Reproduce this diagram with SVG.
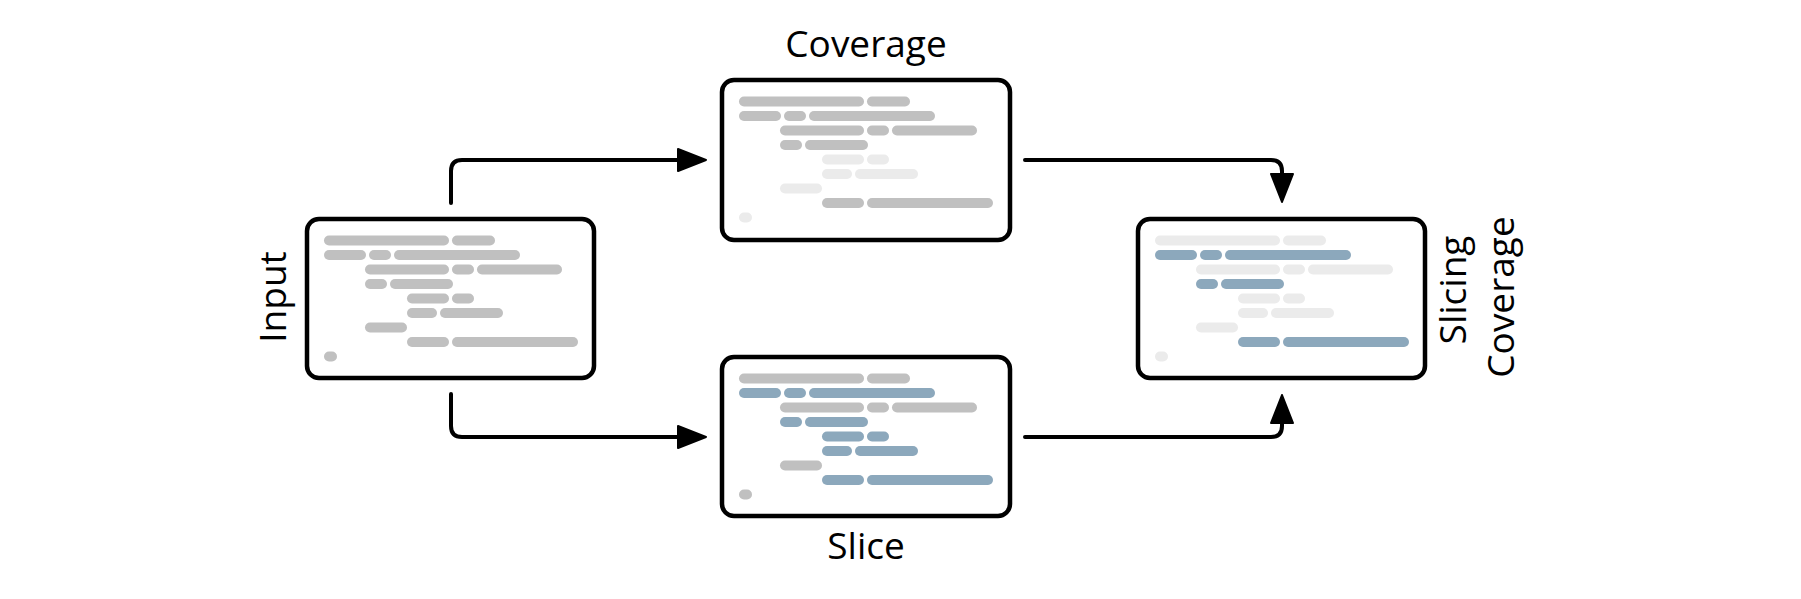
<svg xmlns="http://www.w3.org/2000/svg" width="1801" height="599" viewBox="0 0 1801 599">
<style>
.box{fill:#fff;stroke:#000;stroke-width:4.5}
.g{fill:#c0c0c0}
.l{fill:#ebebeb}
.b{fill:#8ca8bc}
.lbl{font-family:"Open Sans",sans-serif;font-size:37px;fill:#000;text-anchor:middle}
.conn{fill:none;stroke:#000;stroke-width:4;stroke-linecap:round;stroke-linejoin:round}
</style>
<defs>
<marker id="ah" markerUnits="userSpaceOnUse" viewBox="0 0 30 24" markerWidth="30" markerHeight="24" refX="3" refY="12" orient="auto">
<path d="M1,1 L29,12 L1,23 z" fill="#000" stroke="#000" stroke-width="2" stroke-linejoin="round"/>
</marker>
</defs>
<rect width="1801" height="599" fill="#fff"/>

<g id="input" transform="translate(307,219)">
<rect class="box" x="0" y="0" width="287" height="159" rx="12"/>
<g>
<rect class="g" x="17" y="16.5" width="125" height="10" rx="5"/><rect class="g" x="145" y="16.5" width="43" height="10" rx="5"/>
<rect class="g" x="17" y="31" width="42" height="10" rx="5"/><rect class="g" x="62" y="31" width="22" height="10" rx="5"/><rect class="g" x="87" y="31" width="126" height="10" rx="5"/>
<rect class="g" x="58" y="45.5" width="84" height="10" rx="5"/><rect class="g" x="145" y="45.5" width="22" height="10" rx="5"/><rect class="g" x="170" y="45.5" width="85" height="10" rx="5"/>
<rect class="g" x="58" y="60" width="22" height="10" rx="5"/><rect class="g" x="83" y="60" width="63" height="10" rx="5"/>
<rect class="g" x="100" y="74.5" width="42" height="10" rx="5"/><rect class="g" x="145" y="74.5" width="22" height="10" rx="5"/>
<rect class="g" x="100" y="89" width="30" height="10" rx="5"/><rect class="g" x="133" y="89" width="63" height="10" rx="5"/>
<rect class="g" x="58" y="103.5" width="42" height="10" rx="5"/>
<rect class="g" x="100" y="118" width="42" height="10" rx="5"/><rect class="g" x="145" y="118" width="126" height="10" rx="5"/>
<rect class="g" x="17" y="132.5" width="13" height="10" rx="5"/>
</g>
<text class="lbl" transform="translate(-21,78) rotate(-90)">Input</text>
</g>

<g id="coverage" transform="translate(722,80)">
<rect class="box" x="0" y="0" width="288" height="160" rx="12"/>
<g>
<rect class="g" x="17" y="16.5" width="125" height="10" rx="5"/><rect class="g" x="145" y="16.5" width="43" height="10" rx="5"/>
<rect class="g" x="17" y="31" width="42" height="10" rx="5"/><rect class="g" x="62" y="31" width="22" height="10" rx="5"/><rect class="g" x="87" y="31" width="126" height="10" rx="5"/>
<rect class="g" x="58" y="45.5" width="84" height="10" rx="5"/><rect class="g" x="145" y="45.5" width="22" height="10" rx="5"/><rect class="g" x="170" y="45.5" width="85" height="10" rx="5"/>
<rect class="g" x="58" y="60" width="22" height="10" rx="5"/><rect class="g" x="83" y="60" width="63" height="10" rx="5"/>
<rect class="l" x="100" y="74.5" width="42" height="10" rx="5"/><rect class="l" x="145" y="74.5" width="22" height="10" rx="5"/>
<rect class="l" x="100" y="89" width="30" height="10" rx="5"/><rect class="l" x="133" y="89" width="63" height="10" rx="5"/>
<rect class="l" x="58" y="103.5" width="42" height="10" rx="5"/>
<rect class="g" x="100" y="118" width="42" height="10" rx="5"/><rect class="g" x="145" y="118" width="126" height="10" rx="5"/>
<rect class="l" x="17" y="132.5" width="13" height="10" rx="5"/>
</g>
<text class="lbl" x="144" y="-23">Coverage</text>
</g>

<g id="slice" transform="translate(722,357)">
<rect class="box" x="0" y="0" width="288" height="159" rx="12"/>
<g>
<rect class="g" x="17" y="16.5" width="125" height="10" rx="5"/><rect class="g" x="145" y="16.5" width="43" height="10" rx="5"/>
<rect class="b" x="17" y="31" width="42" height="10" rx="5"/><rect class="b" x="62" y="31" width="22" height="10" rx="5"/><rect class="b" x="87" y="31" width="126" height="10" rx="5"/>
<rect class="g" x="58" y="45.5" width="84" height="10" rx="5"/><rect class="g" x="145" y="45.5" width="22" height="10" rx="5"/><rect class="g" x="170" y="45.5" width="85" height="10" rx="5"/>
<rect class="b" x="58" y="60" width="22" height="10" rx="5"/><rect class="b" x="83" y="60" width="63" height="10" rx="5"/>
<rect class="b" x="100" y="74.5" width="42" height="10" rx="5"/><rect class="b" x="145" y="74.5" width="22" height="10" rx="5"/>
<rect class="b" x="100" y="89" width="30" height="10" rx="5"/><rect class="b" x="133" y="89" width="63" height="10" rx="5"/>
<rect class="g" x="58" y="103.5" width="42" height="10" rx="5"/>
<rect class="b" x="100" y="118" width="42" height="10" rx="5"/><rect class="b" x="145" y="118" width="126" height="10" rx="5"/>
<rect class="g" x="17" y="132.5" width="13" height="10" rx="5"/>
</g>
<text class="lbl" x="144" y="202">Slice</text>
</g>

<g id="slicing-coverage" transform="translate(1138,219)">
<rect class="box" x="0" y="0" width="287" height="159" rx="12"/>
<g>
<rect class="l" x="17" y="16.5" width="125" height="10" rx="5"/><rect class="l" x="145" y="16.5" width="43" height="10" rx="5"/>
<rect class="b" x="17" y="31" width="42" height="10" rx="5"/><rect class="b" x="62" y="31" width="22" height="10" rx="5"/><rect class="b" x="87" y="31" width="126" height="10" rx="5"/>
<rect class="l" x="58" y="45.5" width="84" height="10" rx="5"/><rect class="l" x="145" y="45.5" width="22" height="10" rx="5"/><rect class="l" x="170" y="45.5" width="85" height="10" rx="5"/>
<rect class="b" x="58" y="60" width="22" height="10" rx="5"/><rect class="b" x="83" y="60" width="63" height="10" rx="5"/>
<rect class="l" x="100" y="74.5" width="42" height="10" rx="5"/><rect class="l" x="145" y="74.5" width="22" height="10" rx="5"/>
<rect class="l" x="100" y="89" width="30" height="10" rx="5"/><rect class="l" x="133" y="89" width="63" height="10" rx="5"/>
<rect class="l" x="58" y="103.5" width="42" height="10" rx="5"/>
<rect class="b" x="100" y="118" width="42" height="10" rx="5"/><rect class="b" x="145" y="118" width="126" height="10" rx="5"/>
<rect class="l" x="17" y="132.5" width="13" height="10" rx="5"/>
</g>
<text class="lbl" transform="translate(328,71) rotate(-90)">Slicing</text>
<text class="lbl" transform="translate(376,78) rotate(-90)">Coverage</text>
</g>

<g id="connectors">
<path class="conn" d="M451,203 V171 Q451,160 462,160 H680" marker-end="url(#ah)"/>
<path class="conn" d="M451,394 V426 Q451,437 462,437 H680" marker-end="url(#ah)"/>
<path class="conn" d="M1025,160 H1271 Q1282,160 1282,171 V176" marker-end="url(#ah)"/>
<path class="conn" d="M1025,437 H1271 Q1282,437 1282,426 V421" marker-end="url(#ah)"/>
</g>
</svg>
